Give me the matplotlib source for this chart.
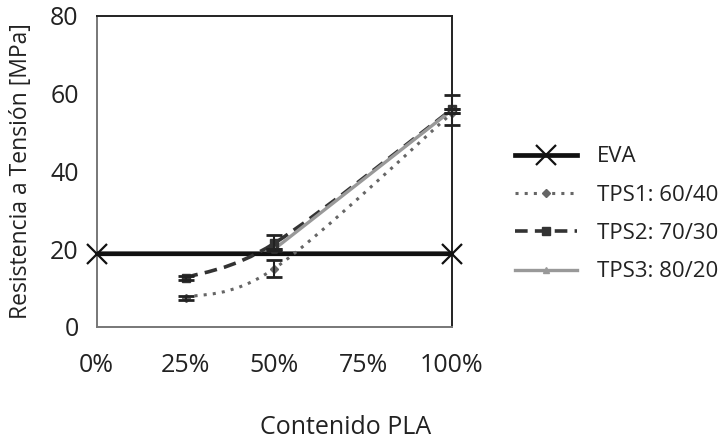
import numpy as np
import matplotlib.pyplot as plt
from matplotlib.path import Path
from matplotlib.patches import PathPatch
from matplotlib.lines import Line2D
from matplotlib.ticker import FuncFormatter

plt.rcParams['font.family'] = ['Open Sans', 'DejaVu Sans']

# data
eva_x = [0, 100]
eva_y = [18.8, 18.8]
tps1_x = [25, 50, 100]
tps1_y = [7.5, 15.0, 55.0]
tps1_err = [0.5, 2.3, 0.0]
tps2_x = [25, 50, 100]
tps2_y = [12.6, 21.5, 56.0]
tps2_err = [0.5, 2.1, 0.0]
tps3_x = [50, 100]
tps3_y = [20.0, 55.8]
tps3_err = [0.0, 3.8]
x_ticks = [0, 25, 50, 75, 100]
y_ticks = [0, 20, 40, 60, 80]


def smooth_path(xs, ys):
    # bezier curve through points, like excel "smoothed line"
    pts = np.column_stack([xs, ys]).astype(float)
    n = len(pts)
    verts = [pts[0]]
    codes = [Path.MOVETO]
    for i in range(n - 1):
        p0 = pts[i - 1] if i > 0 else pts[i]
        p1, p2 = pts[i], pts[i + 1]
        p3 = pts[i + 2] if i + 2 < n else pts[i + 1]
        c1 = p1 + (p2 - p0) / 6
        c2 = p2 - (p3 - p1) / 6
        verts += [c1, c2, p2]
        codes += [Path.CURVE4] * 3
    return Path(verts, codes)


fig = plt.figure(figsize=(7.22, 4.44), dpi=100)
ax = fig.add_axes([0.134, 0.264, 0.492, 0.700])

styles = [
    ("EVA", eva_x, eva_y, None, dict(color='#111111', lw=3.4, ls='-'), dict(marker='x', ms=14, mew=1.6)),
    ("TPS1: 60/40", tps1_x, tps1_y, tps1_err, dict(color='#666666', lw=2.2, ls=(0, (1, 2))), dict(marker='D', ms=4)),
    ("TPS2: 70/30", tps2_x, tps2_y, tps2_err, dict(color='#333333', lw=2.6, ls=(0, (3.5, 2))), dict(marker='s', ms=6)),
    ("TPS3: 80/20", tps3_x, tps3_y, tps3_err, dict(color='#999999', lw=2.4, ls='-'), dict(marker='^', ms=5)),
]

handles = []
for name, xs, ys, err, lstyle, mstyle in styles:
    patch = PathPatch(smooth_path(xs, ys), fill=False, edgecolor=lstyle['color'],
                      lw=lstyle['lw'], ls=lstyle['ls'], zorder=3)
    ax.add_patch(patch)
    ax.plot(xs, ys, ls='none', color=lstyle['color'], zorder=4, clip_on=False, **mstyle)
    if err is not None:
        eb = ax.errorbar(xs, ys, yerr=err, fmt='none', ecolor='#222222', elinewidth=1.5,
                         capsize=6, capthick=2, zorder=5)
        for art in eb.lines[1] + eb.lines[2]:
            art.set_clip_on(False)
    handles.append(Line2D([], [], color=lstyle['color'], lw=lstyle['lw'], ls=lstyle['ls'],
                          **mstyle))

ax.set_xlim(0, 100)
ax.set_ylim(0, 80)
ax.set_xticks(x_ticks)
ax.set_yticks(y_ticks)
ax.xaxis.set_major_formatter(FuncFormatter(lambda v, p: f"{v:.0f}%"))
ax.tick_params(length=0, labelsize=18, colors='#222222')
ax.tick_params(axis='x', pad=19)
ax.tick_params(axis='y', pad=13)
for s in ax.spines.values():
    s.set_color('#222222')
    s.set_linewidth(1.4)
ax.spines['left'].set_color('#777777')
ax.spines['bottom'].set_color('#777777')

ax.set_xlabel("Contenido PLA", fontsize=18, color='#222222')
ax.xaxis.set_label_coords(0.70, -0.285)
ax.set_ylabel("Resistencia a Tensión [MPa]", fontsize=16.5, color='#222222')
ax.yaxis.set_label_coords(-0.18, 0.5)

leg = fig.legend(handles, [s[0] for s in styles], loc='center left',
                 bbox_to_anchor=(515 / 722, 0.517), frameon=False, fontsize=16,
                 borderpad=0, borderaxespad=0,
                 handlelength=2.8, labelspacing=0.78, handletextpad=0.9)
for t in leg.get_texts():
    t.set_color('#222222')

fig.savefig("out.png", dpi=100)
